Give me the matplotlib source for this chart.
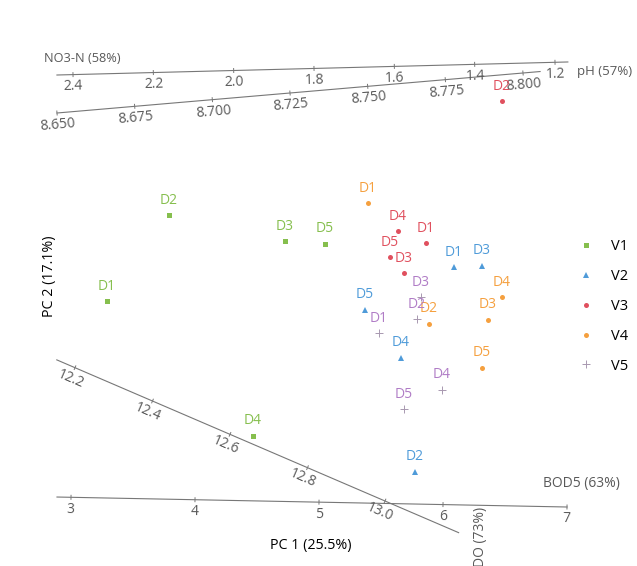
import numpy as np
import matplotlib.pyplot as plt

plt.rcParams['font.family'] = ['Open Sans', 'DejaVu Sans']

# sample scores (PC1, PC2) per group, order D1..D5
sites = ['D1', 'D2', 'D3', 'D4', 'D5']
v1_pc1 = [-2.13, -1.51, -0.35, -0.67, 0.05]
v1_pc2 = [-0.11, 0.75, 0.49, -1.46, 0.46]
v2_pc1 = [1.34, 0.95, 1.62, 0.81, 0.45]
v2_pc2 = [0.23, -1.82, 0.24, -0.68, -0.20]
v3_pc1 = [1.06, 1.82, 0.84, 0.78, 0.70]
v3_pc2 = [0.47, 1.89, 0.17, 0.59, 0.33]
v4_pc1 = [0.48, 1.09, 1.68, 1.82, 1.62]
v4_pc2 = [0.87, -0.34, -0.30, -0.07, -0.78]
v5_pc1 = [0.59, 0.97, 1.01, 1.22, 0.84]
v5_pc2 = [-0.43, -0.29, -0.07, -1.00, -1.19]

groups = ['V1', 'V2', 'V3', 'V4', 'V5']
colors = ['#86bf4e', '#4f9bd9', '#e0505e', '#f5a03f', '#b07cc6']
mcolors = ['#86bf4e', '#4f9bd9', '#e0505e', '#f5a03f', '#a898b0']
markers = ['s', '^', 'o', 'o', '+']
msizes = [3.6, 4.6, 3.6, 3.6, 6.0]

# calibrated variable axes: two anchor values with their score positions
bod5_ticks = [3, 4, 5, 6, 7]
do_ticks = [12.2, 12.4, 12.6, 12.8, 13.0]
no3_ticks = [2.4, 2.2, 2.0, 1.8, 1.6, 1.4, 1.2]
ph_ticks = [8.650, 8.675, 8.700, 8.725, 8.750, 8.775, 8.800]

bod5_cal = (3, (-2.49, -2.073), 7, (2.47, -2.17), 2.887, 7.0)
do_cal = (12.2, (-2.45, -0.777), 13.0, (0.65, -2.11), 12.153, 13.19)
no3_cal = (2.4, (-2.47, 2.154), 1.2, (2.35, 2.277), 2.44, 1.168)
ph_cal = (8.650, (-2.63, 1.77), 8.800, (2.03, 2.17), 8.650, 8.8055)

grey = '#595959'
line_grey = '#777777'

fig = plt.figure(figsize=(6.37, 5.66), dpi=100)
ax = fig.add_axes([0, 0, 1, 1])
ax.set_xlim(-3.20, 3.17)
ax.set_ylim(-2.76, 2.90)
ax.axis('off')


def calib_axis(cal, ticks, fmt, off=12):
    va, pa, vb, pb, lo, hi = cal
    pa = np.array(pa)
    pb = np.array(pb)

    def pos(v):
        return pa + (v - va) / (vb - va) * (pb - pa)

    p0, p1 = pos(lo), pos(hi)
    ax.plot([p0[0], p1[0]], [p0[1], p1[1]], color=line_grey, lw=0.8)
    d = ax.transData.transform(p1) - ax.transData.transform(p0)
    d = d / np.hypot(*d)
    n = np.array([d[1], -d[0]])
    ang = np.degrees(np.arctan2(d[1], d[0]))
    inv = ax.transData.inverted()
    for t in ticks:
        pd = ax.transData.transform(pos(t))
        a = inv.transform(pd - n * 2)
        b = inv.transform(pd + n * 2)
        ax.plot([a[0], b[0]], [a[1], b[1]], color=line_grey, lw=0.7)
        lp = inv.transform(pd + n * off)
        ax.text(lp[0], lp[1], fmt.format(t), color=grey, fontsize=10,
                rotation=ang, rotation_mode='anchor', ha='center', va='center')


calib_axis(bod5_cal, bod5_ticks, '{:.0f}')
calib_axis(do_cal, do_ticks, '{:.1f}')
calib_axis(no3_cal, no3_ticks, '{:.1f}')
calib_axis(ph_cal, ph_ticks, '{:.3f}')

series = [(v1_pc1, v1_pc2), (v2_pc1, v2_pc2), (v3_pc1, v3_pc2),
          (v4_pc1, v4_pc2), (v5_pc1, v5_pc2)]
handles = []
for (xs, ys), g, c, mc, m, ms in zip(series, groups, colors, mcolors,
                                      markers, msizes):
    h, = ax.plot(xs, ys, linestyle='none', marker=m, ms=ms, color=mc,
                 mew=0.7 if m == '+' else 0, label=g)
    handles.append(h)
    for x, y, s in zip(xs, ys, sites):
        ax.annotate(s, (x, y), xytext=(0, 15), textcoords='offset pixels',
                    ha='center', va='center', color=c, fontsize=10)

# variable names and PC titles
fig.text(44 / 637, 1 - 58 / 566, 'NO3-N (58%)', color=grey, fontsize=9.2,
         ha='left', va='center')
fig.text(577 / 637, 1 - 71 / 566, 'pH (57%)', color=grey, fontsize=9.5,
         ha='left', va='center')
fig.text(581 / 637, 1 - 483 / 566, 'BOD5 (63%)', color=grey, fontsize=10,
         ha='center', va='center')
fig.text(481 / 637, 1 - 537 / 566, 'DO (73%)', color=grey, fontsize=10,
         ha='center', va='center', rotation=90)
fig.text(311 / 637, 1 - 545 / 566, 'PC 1 (25.5%)', color='black', fontsize=10.3,
         ha='center', va='center')
fig.text(49 / 637, 1 - 276 / 566, 'PC 2 (17.1%)', color='black', fontsize=10.3,
         ha='center', va='center', rotation=90)

fig.legend(handles=handles, loc='upper left',
           bbox_to_anchor=(579 / 637, 1 - 239 / 566), frameon=False,
           fontsize=10.5, handlelength=1.0, handletextpad=1.2,
           labelspacing=1.02, borderpad=0, borderaxespad=0)

fig.savefig('out.png', dpi=100)
